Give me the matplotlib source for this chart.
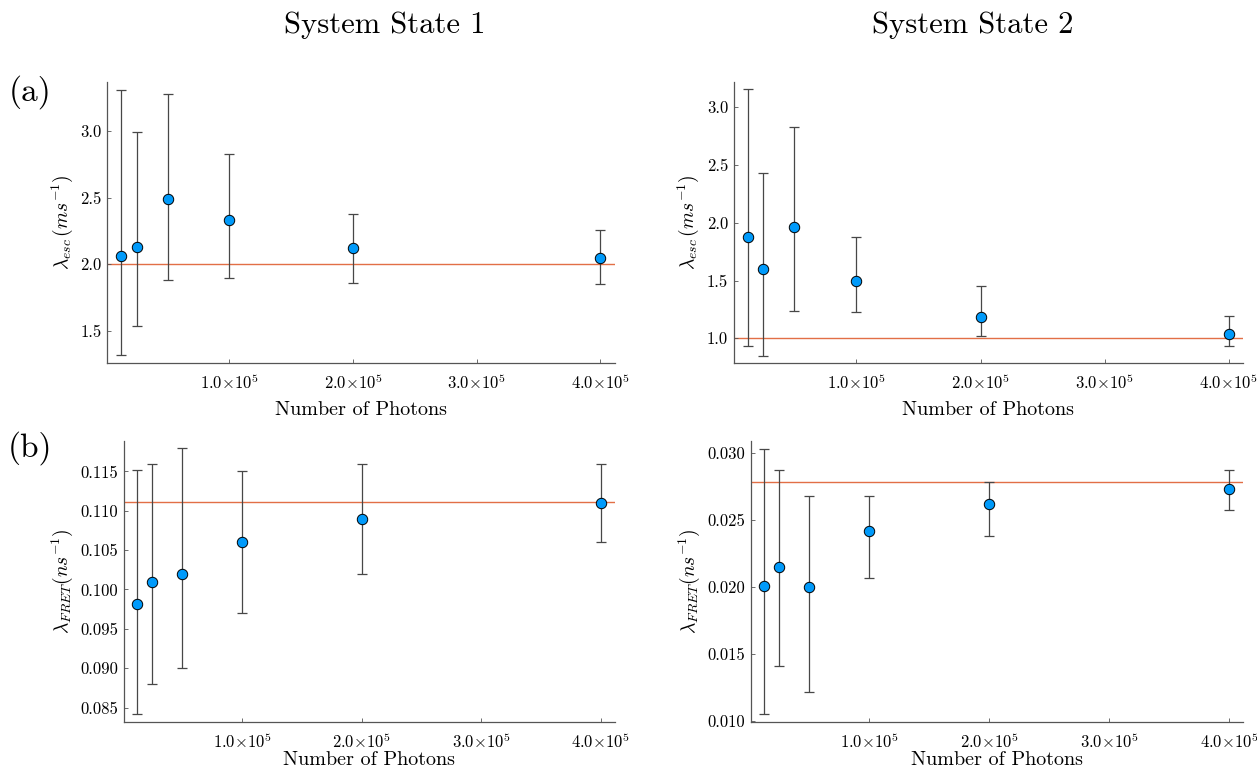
import matplotlib

matplotlib.use("Agg")
import matplotlib.pyplot as plt
from matplotlib.ticker import FixedLocator, FuncFormatter

# photon counts used for every run
photons = [12500, 25000, 50000, 100000, 200000, 400000]

# state 1, escape rate (ms^-1)
esc1 = [2.06, 2.13, 2.49, 2.33, 2.12, 2.05]
esc1_lo = [1.32, 1.54, 1.88, 1.90, 1.86, 1.85]
esc1_hi = [3.31, 2.99, 3.28, 2.83, 2.38, 2.26]
esc1_true = 2.0

# state 2, escape rate (ms^-1)
esc2 = [1.88, 1.60, 1.96, 1.50, 1.18, 1.04]
esc2_lo = [0.93, 0.85, 1.24, 1.23, 1.02, 0.93]
esc2_hi = [3.16, 2.43, 2.83, 1.88, 1.45, 1.19]
esc2_true = 1.0

# state 1, FRET rate (ns^-1)
fret1 = [0.0982, 0.101, 0.102, 0.106, 0.109, 0.111]
fret1_lo = [0.0842, 0.088, 0.090, 0.097, 0.102, 0.106]
fret1_hi = [0.1152, 0.116, 0.118, 0.115, 0.116, 0.116]
fret1_true = 0.1111

# state 2, FRET rate (ns^-1)
fret2 = [0.0201, 0.0215, 0.0200, 0.0242, 0.0262, 0.0273]
fret2_lo = [0.01055, 0.0141, 0.0122, 0.0207, 0.0238, 0.0257]
fret2_hi = [0.0303, 0.0287, 0.0268, 0.0268, 0.0278, 0.0287]
fret2_true = 0.0278

x_ticks = [1e5, 2e5, 3e5, 4e5]

W, H = 1257, 774
BLUE = "#009AFA"
ORANGE = "#E26F46"
DARK = "#474747"

plt.rcParams["font.family"] = "cmr10"
plt.rcParams["mathtext.fontset"] = "cm"
plt.rcParams["axes.formatter.use_mathtext"] = True


def sci(v, pos):
    return r"$%.1f{\times}10^{5}$" % (v / 1e5)


def panel(fig, box, y, lo, hi, true, ylim, yticks, yfmt, ylabel, xpad):
    x0, y0, x1, y1 = box
    ax = fig.add_axes([x0 / W, 1 - y1 / H, (x1 - x0) / W, (y1 - y0) / H])
    yerr = [[v - l for v, l in zip(y, lo)], [h - v for v, h in zip(y, hi)]]
    ax.axhline(true, color=ORANGE, lw=1.0, zorder=1)
    ax.errorbar(photons, y, yerr=yerr, fmt="none", ecolor=DARK, elinewidth=0.9,
                capsize=3.5, capthick=0.9, zorder=2)
    ax.plot(photons, y, "o", ms=7.5, mfc=BLUE, mec="black", mew=0.7, zorder=3)
    ax.set_xlim(1000, 411500)
    ax.set_ylim(*ylim)
    ax.xaxis.set_major_locator(FixedLocator(x_ticks))
    ax.xaxis.set_major_formatter(FuncFormatter(sci))
    ax.yaxis.set_major_locator(FixedLocator(yticks))
    ax.yaxis.set_major_formatter(FuncFormatter(lambda v, p: yfmt % v))
    for side in ("top", "right"):
        ax.spines[side].set_visible(False)
    for side in ("left", "bottom"):
        ax.spines[side].set_color("#555555")
        ax.spines[side].set_linewidth(0.9)
    ax.tick_params(direction="in", length=3, width=0.6, color="#555555",
                   labelsize=12, pad=4)
    ax.tick_params(axis="x", pad=7)
    ax.set_xlabel("Number of Photons", fontsize=14.5, labelpad=xpad)
    ax.set_ylabel(ylabel, fontsize=14, labelpad=4)
    return ax


fig = plt.figure(figsize=(W / 100, H / 100), dpi=100)

panel(fig, (107, 81.7, 614.5, 363.3), esc1, esc1_lo, esc1_hi, esc1_true,
      (1.257, 3.37), [1.5, 2.0, 2.5, 3.0], "%.1f", r"$\lambda_{esc}\,(ms^{-1})$", 6)
panel(fig, (733.6, 81.7, 1243, 363.3), esc2, esc2_lo, esc2_hi, esc2_true,
      (0.783, 3.222), [1.0, 1.5, 2.0, 2.5, 3.0], "%.1f", r"$\lambda_{esc}\,(ms^{-1})$", 6)
panel(fig, (123.7, 440.7, 614.5, 721.7), fret1, fret1_lo, fret1_hi, fret1_true,
      (0.0832, 0.1189), [0.085, 0.090, 0.095, 0.100, 0.105, 0.110, 0.115], "%.3f",
      r"$\lambda_{FRET}(ns^{-1})$", 0)
panel(fig, (750.5, 440.7, 1243.3, 721.7), fret2, fret2_lo, fret2_hi, fret2_true,
      (0.00995, 0.0309), [0.010, 0.015, 0.020, 0.025, 0.030], "%.3f",
      r"$\lambda_{FRET}(ns^{-1})$", 0)

fig.text(385 / W, 1 - 25 / H, "System State 1", fontsize=22, ha="center", va="center")
fig.text(973 / W, 1 - 25 / H, "System State 2", fontsize=22, ha="center", va="center")
fig.text(30 / W, 1 - 92 / H, "(a)", fontsize=24, ha="center", va="center")
fig.text(30 / W, 1 - 448 / H, "(b)", fontsize=24, ha="center", va="center")

fig.savefig("out.png", dpi=100)
